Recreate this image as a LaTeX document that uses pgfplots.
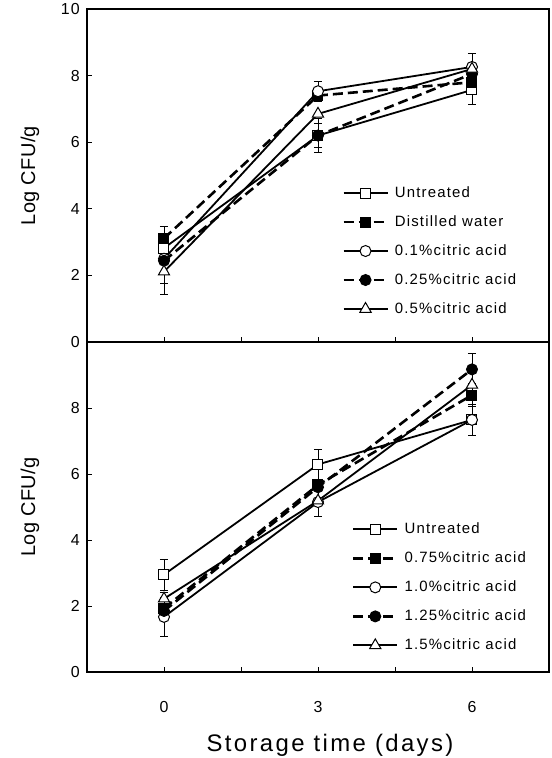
\documentclass[border=0pt]{standalone}
\usepackage{pgfplots}
\pgfplotsset{compat=1.18}
\usepackage{fontspec}
\setmainfont{Liberation Sans}[LetterSpace=8]
\newfontfamily\xlabfont{Liberation Sans}[LetterSpace=10]
\newfontfamily\ylabfont{Liberation Sans}[LetterSpace=2]
\begin{document}
\begin{tikzpicture}
\path[use as bounding box] (0,0) rectangle (552bp,758bp);
\pgfplotsset{
  common/.style={
    scale only axis, width=462bp,
    xmin=-1.5, xmax=7.5, ymin=0, ymax=10,
    xtick={0,1.5,3,4.5,6},
    tick align=inside, xtick pos=lower, ytick pos=left,
    major tick length=5bp,
    axis line style={line width=1.6bp},
    tick style={line width=0.8bp, black},
    /pgf/number format/assume math mode=true,
    ticklabel style={font=\fontsize{16}{18}\selectfont},
    yticklabel style={inner sep=0pt, anchor=east, xshift=-7bp},
    xticklabel style={inner sep=0pt, anchor=base, yshift=-40bp},
    ylabel={\ylabfont\fontsize{20}{22}\selectfont Log CFU/g},
    every axis y label/.style={at={(axis description cs:0,0.5)}, rotate=90, anchor=center, yshift=57bp},
    legend style={draw=none, fill=none, anchor=north west,
      font=\fontsize{15}{17}\selectfont,
      nodes={inner sep=0pt, text height=11bp, text depth=3bp},
      row sep=15bp, column sep=6bp},
    legend cell align=left,
    legend image code/.code={\draw[mark repeat=2,mark phase=2,##1] plot coordinates {(0bp,0bp) (22bp,0bp) (44bp,0bp)};},
    error bars/y dir=both, error bars/y explicit,
    error bars/error mark options={rotate=90, mark size=4bp, line width=0.8bp, solid},
    error bars/error bar style={line width=0.8bp, solid},
  },
  sl/.style={black, solid, line width=1.8bp},
  dl/.style={black, dash pattern=on 10bp off 5bp, line width=2.6bp},
  osq/.style={mark=square*, mark size=5bp, mark options={fill=white, solid, line width=1bp}},
  fsq/.style={mark=square*, mark size=5bp, mark options={fill=black, solid, line width=1bp}},
  oci/.style={mark=*, mark size=5.5bp, mark options={fill=white, solid, line width=1bp}},
  fci/.style={mark=*, mark size=5.5bp, mark options={fill=black, solid, line width=1bp}},
  otr/.style={mark=triangle*, mark size=6.5bp, mark options={fill=white, solid, line width=1bp}},
}
% ---------- top panel ----------
\begin{axis}[common, height=333bp, at={(87bp,416bp)}, anchor=south west,
  xticklabels={}, ytick={0,2,4,6,8,10},
  legend style={at={(axis cs:3.41,4.75)}}]
\addplot[sl, osq] coordinates {(0,2.82) +- (0,0) (3,6.2) +- (0,0.5) (6,7.57) +- (0,0.44)};
\addlegendentry{Untreated}
\addplot[dl, fsq] coordinates {(0,3.11) +- (0,0.36) (3,7.4) +- (0,0) (6,7.8) +- (0,0)};
\addlegendentry{Distilled water}
\addplot[sl, oci] coordinates {(0,2.5) +- (0,0) (3,7.53) +- (0,0.3) (6,8.26) +- (0,0.42)};
\addlegendentry{0.1\%citric acid}
\addplot[dl, fci] coordinates {(0,2.44) +- (0,0.68) (3,6.2) +- (0,0.35) (6,8.05) +- (0,0)};
\addlegendentry{0.25\%citric acid}
\addplot[sl, otr] coordinates {(0,2.11) +- (0,0.68) (3,6.85) +- (0,0) (6,8.2) +- (0,0)};
\addlegendentry{0.5\%citric acid}
\end{axis}
% ---------- bottom panel ----------
\begin{axis}[common, height=330bp, at={(87bp,86bp)}, anchor=south west,
  xticklabels={0,,3,,6}, ytick={0,2,4,6,8},
  xlabel={\xlabfont\fontsize{24}{26}\selectfont Storage time (days)},
  every axis x label/.style={at={(axis description cs:0.5,0)}, anchor=base, yshift=-79bp, xshift=12bp},
  legend style={at={(axis cs:3.6,4.6)}}]
\addplot[sl, osq] coordinates {(0,2.95) +- (0,0.47) (3,6.29) +- (0,0.47) (6,7.64) +- (0,0)};
\addlegendentry{Untreated}
\addplot[dl, fsq] coordinates {(0,1.93) +- (0,0) (3,5.67) +- (0,0) (6,8.39) +- (0,0.35)};
\addlegendentry{0.75\%citric acid}
\addplot[sl, oci] coordinates {(0,1.67) +- (0,0.6) (3,5.15) +- (0,0) (6,7.64) +- (0,0.46)};
\addlegendentry{1.0\%citric acid}
\addplot[dl, fci] coordinates {(0,1.85) +- (0,0) (3,5.6) +- (0,0) (6,9.17) +- (0,0.49)};
\addlegendentry{1.25\%citric acid}
\addplot[sl, otr] coordinates {(0,2.22) +- (0,0.18) (3,5.19) +- (0,0.49) (6,8.7) +- (0,0)};
\addlegendentry{1.5\%citric acid}
\end{axis}
\end{tikzpicture}
\end{document}
